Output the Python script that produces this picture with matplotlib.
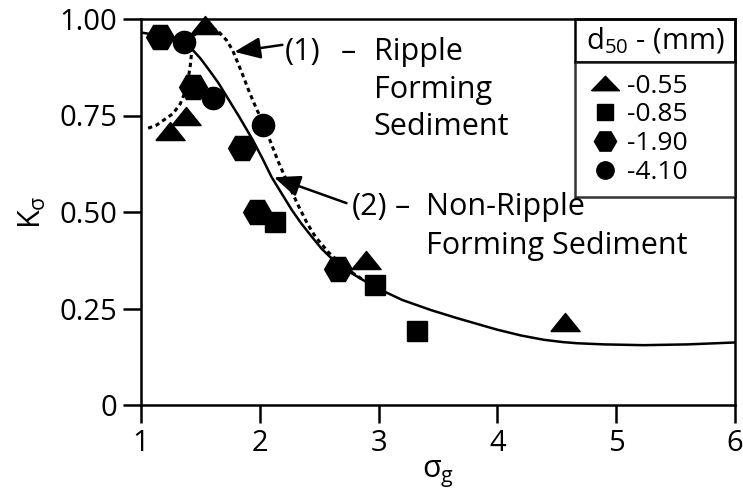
import matplotlib
matplotlib.use("Agg")
import matplotlib.pyplot as plt
from matplotlib.lines import Line2D
from matplotlib.patches import Rectangle

plt.rcParams['font.family'] = ['Open Sans', 'DejaVu Sans']
plt.rcParams['mathtext.fontset'] = 'custom'
plt.rcParams['mathtext.rm'] = 'Open Sans'
plt.rcParams['mathtext.it'] = 'Open Sans'
plt.rcParams['mathtext.default'] = 'regular'

# ---- data ----
tri_x = [1.24, 1.38, 1.54, 2.89, 4.57]
tri_y = [0.71, 0.75, 0.984, 0.375, 0.214]
sq_x = [2.13, 2.97, 3.32]
sq_y = [0.474, 0.311, 0.192]
hex_x = [1.16, 1.435, 1.85, 1.98, 2.66]
hex_y = [0.953, 0.823, 0.666, 0.50, 0.352]
cir_x = [1.36, 1.61, 2.03]
cir_y = [0.94, 0.795, 0.725]

# curve (2) Non-ripple forming sediment (solid)
solid_x = [1.0, 1.1, 1.2, 1.3, 1.36, 1.42, 1.5, 1.58, 1.65, 1.72, 1.83, 1.94,
           2.02, 2.10, 2.18, 2.27, 2.35, 2.44, 2.52, 2.61, 2.69, 2.77, 2.9,
           3.02, 3.2, 3.44, 3.65, 3.83, 4.0, 4.2, 4.39, 4.55, 4.67, 4.9, 5.23,
           5.6, 6.0]
solid_y = [0.965, 0.96, 0.955, 0.947, 0.94, 0.925, 0.898, 0.865, 0.835, 0.80,
           0.745, 0.687, 0.64, 0.59, 0.55, 0.505, 0.47, 0.435, 0.405, 0.378,
           0.358, 0.342, 0.318, 0.298, 0.272, 0.246, 0.226, 0.21, 0.195, 0.18,
           0.169, 0.163, 0.16, 0.157, 0.155, 0.157, 0.162]
# curve (1) Ripple forming sediment (dotted)
dot_x = [1.06, 1.13, 1.2, 1.27, 1.33, 1.37, 1.40, 1.415, 1.425, 1.43, 1.46,
         1.50, 1.54, 1.60, 1.66, 1.72, 1.77, 1.81, 1.85, 1.90, 1.94, 1.98,
         2.02, 2.08, 2.16, 2.25, 2.33, 2.40, 2.47, 2.58, 2.72, 2.88]
dot_y = [0.717, 0.725, 0.74, 0.755, 0.78, 0.81, 0.85, 0.88, 0.91, 0.94, 0.965,
         0.98, 0.985, 0.978, 0.965, 0.945, 0.92, 0.89, 0.86, 0.82, 0.79, 0.762,
         0.738, 0.69, 0.627, 0.565, 0.513, 0.47, 0.435, 0.395, 0.355, 0.322]

legend_labels = ['-0.55', '-0.85', '-1.90', '-4.10']
x_ticks = [1, 2, 3, 4, 5, 6]
y_ticks = [0, 0.25, 0.50, 0.75, 1.00]
y_ticklabels = ['0', '0.25', '0.50', '0.75', '1.00']

# ---- figure ----
fig = plt.figure(figsize=(7.43, 4.92), dpi=100)
ax = fig.add_axes([141/743, 1-405/492, 594/743, 386/492])
ax.set_xlim(1, 6)
ax.set_ylim(0, 1.0)

tri_marker = [(-1, -0.62), (1, -0.62), (0, 0.62), (-1, -0.62)]
tri_leg = [(-1, -0.52), (1, -0.52), (0, 0.52), (-1, -0.52)]

ax.plot(solid_x, solid_y, color='black', lw=1.8, zorder=2)
ax.plot(dot_x, dot_y, color='black', lw=2.2, ls=(0, (1.4, 1.2)), zorder=2)

ax.plot(tri_x, tri_y, ls='none', marker=tri_marker, ms=21, color='black', zorder=3, clip_on=False)
ax.plot(sq_x, sq_y, ls='none', marker='s', ms=15, color='black', zorder=3)
ax.plot(hex_x, hex_y, ls='none', marker='H', ms=20, color='black', zorder=3)
ax.plot(cir_x, cir_y, ls='none', marker='o', ms=16, color='black', zorder=3)

for s in ax.spines.values():
    s.set_linewidth(1.8)
ax.set_xticks(x_ticks)
ax.set_xticklabels([str(v) for v in x_ticks])
ax.set_yticks(y_ticks)
ax.set_yticklabels(y_ticklabels)
ax.tick_params(direction='out', length=13, width=1.8, labelsize=21, pad=4)
ax.set_xlabel(r'$\sigma_g$', fontsize=22, labelpad=1)
ax.set_ylabel(r'$K_\sigma$', fontsize=22, labelpad=8)

# arrows and annotations
ap = dict(arrowstyle='-|>,head_length=0.8,head_width=0.33', color='black',
          lw=1.8, mutation_scale=20, shrinkA=0, shrinkB=0)
ax.annotate('', xy=(1.786, 0.915), xytext=(2.19, 0.933), arrowprops=ap)
ax.annotate('', xy=(2.12, 0.59), xytext=(2.73, 0.523), arrowprops=ap)

fs = 22
ax.text(2.21, 0.894, '(1)', fontsize=fs, va='baseline', ha='left')
ax.text(2.747, 0.894, '\u2013', fontsize=fs, va='baseline', ha='center')
ax.text(2.96, 0.894, 'Ripple', fontsize=fs, va='baseline', ha='left')
ax.text(2.96, 0.795, 'Forming', fontsize=fs, va='baseline', ha='left')
ax.text(2.96, 0.699, 'Sediment', fontsize=fs, va='baseline', ha='left')
ax.text(2.775, 0.492, '(2)', fontsize=fs, va='baseline', ha='left')
ax.text(3.20, 0.492, '\u2013', fontsize=fs, va='baseline', ha='center')
ax.text(3.40, 0.492, 'Non-Ripple', fontsize=fs, va='baseline', ha='left')
ax.text(3.40, 0.391, 'Forming Sediment', fontsize=fs, va='baseline', ha='left')

# legend
x0 = (575 - 141) / 594
handles = [Line2D([], [], ls='none', marker=tri_leg, ms=20, color='black'),
           Line2D([], [], ls='none', marker='s', ms=12, color='black'),
           Line2D([], [], ls='none', marker='H', ms=16, color='black'),
           Line2D([], [], ls='none', marker='o', ms=12.5, color='black')]
leg = ax.legend(handles, legend_labels, loc='upper left',
                bbox_to_anchor=(x0, 0.889, 1 - x0, 0.0), mode='expand',
                borderaxespad=0, frameon=True, fancybox=False, fontsize=19,
                handlelength=1.36, handletextpad=0.15, labelspacing=0.14,
                borderpad=0.45)
leg.get_frame().set_edgecolor('black')
leg.get_frame().set_linewidth(1.8)
ax.add_patch(Rectangle((x0, 0.889), 1 - x0, 0.111, transform=ax.transAxes,
                       fill=False, lw=1.8, ec='black', zorder=5, clip_on=False))
ax.text(x0 + (1 - x0) / 2, 0.944, r'$d_{50}$ - (mm)', transform=ax.transAxes,
        fontsize=21, ha='center', va='center')

fig.savefig('out.png', dpi=100)
